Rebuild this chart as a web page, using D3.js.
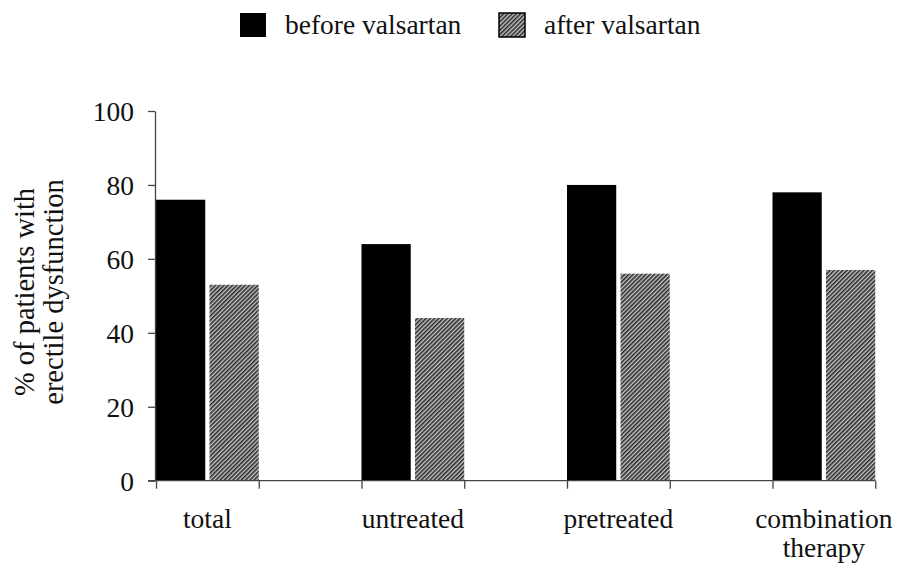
<!DOCTYPE html>
<html>
<head>
<meta charset="utf-8">
<script src="https://cdn.jsdelivr.net/npm/d3@7"></script>
<style>
  body { margin: 0; background: #fff; }
  svg text { font-family: "Liberation Serif", "Times New Roman", serif; fill: #111; }
</style>
</head>
<body>
<div id="chart"></div>
<script>
// chart data
let categories = ["total", "untreated", "pretreated", "combination therapy"];
let seriesNames = ["before valsartan", "after valsartan"];
let beforeValues = [76, 64, 80, 78];
let afterValues = [53, 44, 56, 57];
let yTicks = [0, 20, 40, 60, 80, 100];

let svgWidth = 900;
let svgHeight = 569;
let fontSize = "27.5px";

let svg = d3.select("#chart")
    .append("svg")
    .attr("width", svgWidth)
    .attr("height", svgHeight);

// hatch pattern for the "after" bars
let defs = svg.append("defs");
let pattern = defs.append("pattern")
    .attr("id", "hatch")
    .attr("patternUnits", "userSpaceOnUse")
    .attr("width", 3)
    .attr("height", 3)
    .attr("patternTransform", "rotate(45)");
pattern.append("rect")
    .attr("width", 3).attr("height", 3)
    .attr("fill", "#c8c8c8");
pattern.append("rect")
    .attr("width", 1.6).attr("height", 3)
    .attr("fill", "#2a2a2a");

let fills = ["#000", "url(#hatch)"];

// scales
let plotLeft = 156;
let groupStep = 205.5;
let x0 = d3.scaleBand()
    .domain(categories)
    .range([plotLeft, plotLeft + groupStep * categories.length])
    .padding(0);

let x1 = d3.scaleBand()
    .domain(seriesNames)
    .range([0, x0.bandwidth() / 2])
    .paddingInner(0.08);

let y = d3.scaleLinear()
    .domain([0, 100])
    .range([480.7, 111]);

let rows = categories.map((c, i) => ({
    category: c,
    values: [
        { name: seriesNames[0], value: beforeValues[i] },
        { name: seriesNames[1], value: afterValues[i] }
    ]
}));

// bars
let groups = svg.selectAll("g.group")
    .data(rows)
    .join("g")
    .attr("class", "group")
    .attr("transform", d => `translate(${x0(d.category)}, 0)`);

groups.selectAll("rect")
    .data(d => d.values)
    .join("rect")
    .attr("x", d => x1(d.name))
    .attr("y", d => y(d.value))
    .attr("width", x1.bandwidth())
    .attr("height", d => y(0) - y(d.value))
    .attr("fill", (d, i) => fills[i]);

// y axis
let leftAxis = d3.axisLeft(y)
    .tickValues(yTicks)
    .tickSize(7)
    .tickPadding(14)
    .tickSizeOuter(0);

let yAxisG = svg.append("g")
    .attr("transform", "translate(155, 0)")
    .call(leftAxis);
yAxisG.selectAll("text").style("font-size", fontSize).attr("dy", "0.34em");
yAxisG.selectAll("line, path").attr("stroke", "#444").attr("stroke-width", 1.3);

// x axis: ticks at the edges of each bar pair
let edgeTicks = [];
categories.forEach(c => {
    edgeTicks.push(x0(c));
    edgeTicks.push(x0(c) + x0.bandwidth() / 2);
});
let xLine = d3.scaleLinear().domain([0, 1]).range([0, 1]);
let bottomAxis = d3.axisBottom(xLine)
    .tickValues(edgeTicks)
    .tickFormat("")
    .tickSize(8)
    .tickSizeOuter(0);

let xAxisG = svg.append("g")
    .attr("transform", `translate(0, ${y(0)})`)
    .call(bottomAxis);
xAxisG.select(".domain").attr("d", `M148,0H${edgeTicks[edgeTicks.length - 1]}`);
xAxisG.selectAll("line, path").attr("stroke", "#444").attr("stroke-width", 1.3);

// category labels
let catLabels = svg.append("g").selectAll("text")
    .data(categories)
    .join("text")
    .attr("x", d => x0(d) + x0.bandwidth() / 4)
    .attr("y", 528)
    .attr("text-anchor", "middle")
    .style("font-size", fontSize);

catLabels.each(function(d) {
    let words = d === "combination therapy" ? ["combination", "therapy"] : [d];
    let t = d3.select(this);
    words.forEach((w, i) => {
        t.append("tspan")
            .attr("x", t.attr("x"))
            .attr("dy", i === 0 ? 0 : 29)
            .text(w);
    });
});

// y axis title
let yTitle = svg.append("text")
    .attr("transform", "translate(34, 292) rotate(-90)")
    .attr("text-anchor", "middle")
    .style("font-size", "28.5px");
yTitle.append("tspan").attr("x", 0).attr("dy", 0).text("% of patients with");
yTitle.append("tspan").attr("x", 0).attr("dy", 29).text("erectile dysfunction");

// legend
let legendItems = [
    { name: seriesNames[0], x: 240 },
    { name: seriesNames[1], x: 499 }
];
let legend = svg.append("g").selectAll("g")
    .data(legendItems)
    .join("g")
    .attr("transform", d => `translate(${d.x}, 13)`);

legend.append("rect")
    .attr("width", 26)
    .attr("height", 24)
    .attr("fill", (d, i) => fills[i])
    .attr("stroke", "#000")
    .attr("stroke-width", (d, i) => i === 0 ? 0 : 1.5);

legend.append("text")
    .attr("x", 45)
    .attr("y", 21)
    .style("font-size", fontSize)
    .text(d => d.name);
</script>
</body>
</html>
